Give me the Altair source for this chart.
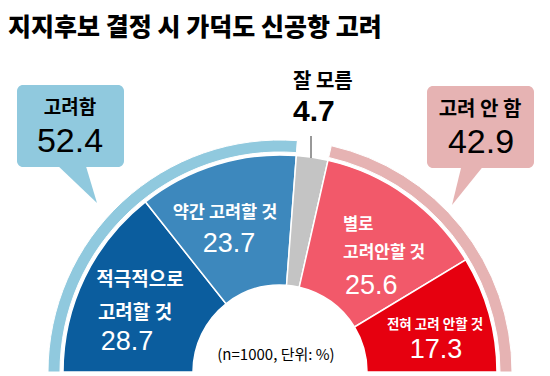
import math
import altair as alt
import pandas as pd

# ---------------- data ----------------
TITLE = "지지후보 결정 시 가덕도 신공항 고려"
categories = ["적극적으로 고려할 것", "약간 고려할 것", "잘 모름", "별로 고려안할 것", "전혀 고려 안할 것"]
values = [28.7, 23.7, 4.7, 25.6, 17.3]
groups = ["고려함", "잘 모름", "고려 안 함"]
group_values = [52.4, 4.7, 42.9]
NOTE = "(n=1000, 단위: %)"

# ---------------- layout / style ----------------
W, H = 534, 368
CX, CY = 272, 364
seg_colors = ["#0b5d9e", "#3d88bd", "#c4c4c4", "#f2596a", "#e6000f"]
ring_colors = ["#90c9de", "#ffffff", "#e6b3b3"]
KR = "Noto Sans CJK KR"
NUM = "Liberation Sans Narrow, Liberation Sans, Arial, sans-serif"

seg_df = pd.DataFrame({"cat": categories, "val": values, "idx": list(range(len(values)))})
ring_df = pd.DataFrame({"cat": groups, "val": group_values, "idx": list(range(len(group_values)))})

theta_scale = alt.Scale(domain=[0, 100], range=[-math.pi / 2, math.pi / 2])

ring = alt.Chart(ring_df).mark_arc(innerRadius=220, outerRadius=232, stroke="white", strokeWidth=1).encode(
    theta=alt.Theta("val:Q", stack=True, scale=theta_scale),
    color=alt.Color("cat:N", scale=alt.Scale(domain=groups, range=ring_colors), legend=None),
    order=alt.Order("idx:Q"),
    x=alt.value(CX), y=alt.value(CY),
)

segs = alt.Chart(seg_df).mark_arc(innerRadius=87, outerRadius=217, stroke="white", strokeWidth=1.5).encode(
    theta=alt.Theta("val:Q", stack=True, scale=theta_scale),
    color=alt.Color("cat:N", scale=alt.Scale(domain=categories, range=seg_colors), legend=None),
    order=alt.Order("idx:Q"),
    x=alt.value(CX), y=alt.value(CY),
)

one = pd.DataFrame({"a": [0]})


def txt(s, x, y, size, color="white", font=KR, weight="bold", align="center"):
    return alt.Chart(pd.DataFrame({"t": [s]})).mark_text(
        font=font, fontSize=size, fontWeight=weight, color=color, align=align, baseline="middle"
    ).encode(text="t:N", x=alt.value(x), y=alt.value(y))


def box(x, x2, y, y2, color):
    return alt.Chart(one).mark_rect(cornerRadius=6, color=color).encode(
        x=alt.value(x), x2=alt.value(x2), y=alt.value(y), y2=alt.value(y2))


def pointer(x, y, path, color):
    return alt.Chart(one).mark_point(shape=path, size=4, filled=True, opacity=1, color=color,
                                     strokeWidth=0).encode(x=alt.value(x), y=alt.value(y))


layers = [
    ring,
    segs,
    # callouts
    box(9, 116, 77, 159, ring_colors[0]),
    pointer(47, 155, "M0,0 L30,0 L42,40 Z", ring_colors[0]),
    box(419, 526, 78, 160, ring_colors[2]),
    pointer(454, 156, "M0,0 L23,0 L-10,41 Z", ring_colors[2]),
    txt(groups[0], 62, 100, 19, color="black"),
    txt(f"{group_values[0]}", 62, 134, 34, color="black", font=NUM, weight="normal"),
    txt(groups[2], 472, 102, 20, color="black"),
    txt(f"{group_values[2]}", 473, 135, 34, color="black", font=NUM, weight="normal"),
    # don't know
    txt(groups[1], 285, 74, 20, color="black", align="left"),
    txt(f"{group_values[1]}", 285, 104, 30, color="black", font=NUM, weight="bold", align="left"),
    alt.Chart(one).mark_rule(color="#333333", strokeWidth=1).encode(
        x=alt.value(303), y=alt.value(128), y2=alt.value(150)),
    # segment labels
    txt("약간 고려할 것", 217, 205, 17.5),
    txt(f"{values[1]}", 221, 236, 27, font=NUM, weight="normal"),
    txt("적극적으로", 132, 272, 19),
    txt("고려할 것", 127, 305, 19),
    txt(f"{values[0]}", 119, 334, 27, font=NUM, weight="normal"),
    txt("별로", 335, 217, 16.5, align="left"),
    txt("고려안할 것", 335, 245, 17, align="left"),
    txt(f"{values[3]}", 337, 278, 27, font=NUM, weight="normal", align="left"),
    txt("전혀 고려 안할 것", 427, 317, 13.5),
    txt(f"{values[4]}", 428, 342, 27, font=NUM, weight="normal"),
    txt(NOTE, 268, 347, 15, color="black", weight="normal"),
    # title
    txt(TITLE, 0, 20, 25, color="black", align="left", weight=900),
]

chart = alt.layer(*layers).resolve_scale(color="independent").properties(
    width=W, height=H, padding=0, autosize=alt.AutoSizeParams(type="none"), background="white"
).configure_view(stroke=None)

chart.save("out.html", embed_options={"renderer": "svg", "actions": False})
